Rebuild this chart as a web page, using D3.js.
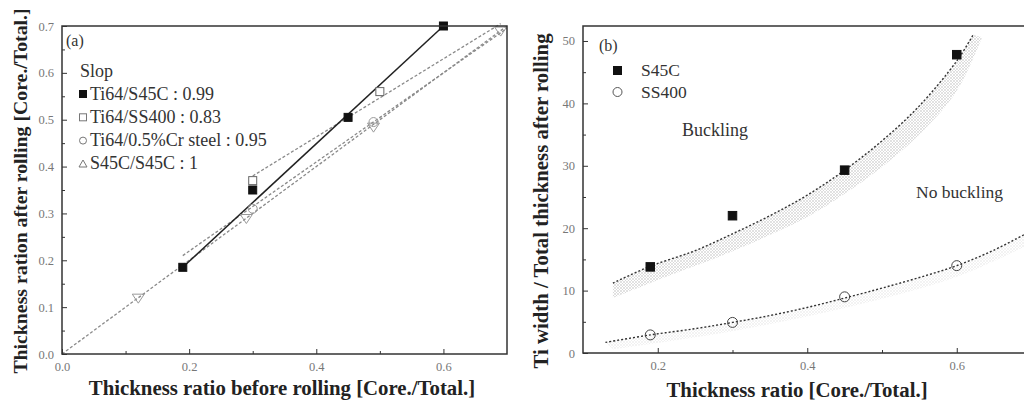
<!DOCTYPE html>
<html>
<head>
<meta charset="utf-8">
<script src="https://cdn.jsdelivr.net/npm/d3@7"></script>
<style>
  body { margin: 0; background: #fff; }
  svg text { font-family: "Liberation Serif", "DejaVu Serif", serif; }
  .tick text { fill: #777; font-size: 12.5px; }
  .tick line { stroke: #333; }
  .axis-title { font-weight: bold; font-size: 20.8px; fill: #222; }
  .legend { font-size: 18px; fill: #333; }
</style>
</head>
<body>
<svg id="chart" width="1024" height="403"></svg>
<script>
// panel (a) data
const aS45C = [[0.19, 0.185], [0.30, 0.35], [0.45, 0.505], [0.60, 0.70]];
const aSS400 = [[0.30, 0.37], [0.50, 0.56]];
const aCr = [[0.30, 0.31], [0.49, 0.495]];
const aS45CS45C = [[0.12, 0.12], [0.29, 0.29], [0.49, 0.485], [0.69, 0.69]];
const fitS45C = [[0.19, 0.185], [0.60, 0.70]];
const fitSS400 = [[0.30, 0.38], [0.69, 0.705]];
const fitCr = [[0.19, 0.21], [0.70, 0.695]];
const fitS45CS45C = [[0, 0], [0.70, 0.70]];
const aLegend = ['Ti64/S45C : 0.99', 'Ti64/SS400 : 0.83', 'Ti64/0.5%Cr steel : 0.95', 'S45C/S45C : 1'];

// panel (b) data
const bS45C = [[0.19, 13.8], [0.30, 22.0], [0.45, 29.3], [0.60, 47.8]];
const bSS400 = [[0.19, 2.9], [0.30, 4.9], [0.45, 9.0], [0.60, 14.0]];
const upperCurve = [[0.14, 11.2], [0.19, 13.9], [0.25, 16.4], [0.30, 19.1], [0.35, 22.0], [0.40, 25.3],
  [0.45, 29.3], [0.50, 34.0], [0.55, 39.6], [0.60, 46.8], [0.622, 51.0]];
const upperBandEdge = [[0.14, 8.8], [0.20, 11.7], [0.30, 16.3], [0.40, 21.8], [0.45, 25.5],
  [0.50, 29.8], [0.55, 35.0], [0.60, 42.0], [0.634, 50.6]];
const lowerCurve = [[0.13, 1.7], [0.19, 2.9], [0.25, 3.9], [0.30, 4.9], [0.35, 6.0], [0.40, 7.3],
  [0.45, 8.8], [0.50, 10.4], [0.55, 12.1], [0.60, 14.0], [0.65, 16.5], [0.70, 19.6]];
const lowerBandEdge = [[0.14, 0.6], [0.30, 3.5], [0.45, 7.2], [0.60, 12.2], [0.70, 17.6]];

const svg = d3.select('#chart');

// crosshatch pattern for the bands
const defs = svg.append('defs');
const pat = defs.append('pattern')
  .attr('id', 'hatch').attr('patternUnits', 'userSpaceOnUse')
  .attr('width', 3).attr('height', 3);
pat.append('path').attr('d', 'M0,0 L3,3 M3,0 L0,3').attr('stroke', '#cfcfcf').attr('stroke-width', 0.6);

function drawFrame(g, x, y, xTicks, xMinor, yTicks, yMinor, xFmt, yFmt) {
  const [x0, x1] = x.range();
  const [y0, y1] = y.range();
  g.append('g').attr('transform', `translate(0,${y0})`)
    .call(d3.axisBottom(x).tickValues(xMinor).tickFormat('').tickSize(-3))
    .call(a => a.select('.domain').remove());
  g.append('g').attr('transform', `translate(0,${y0})`)
    .call(d3.axisBottom(x).tickValues(xTicks).tickFormat(xFmt).tickSize(-5).tickPadding(8))
    .call(a => a.select('.domain').remove());
  g.append('g').attr('transform', `translate(${x0},0)`)
    .call(d3.axisLeft(y).tickValues(yMinor).tickFormat('').tickSize(-3))
    .call(a => a.select('.domain').remove());
  g.append('g').attr('transform', `translate(${x0},0)`)
    .call(d3.axisLeft(y).tickValues(yTicks).tickFormat(yFmt).tickSize(-5).tickPadding(8))
    .call(a => a.select('.domain').remove());
  g.selectAll('.tick text').attr('font-family', '"Liberation Serif", serif');
  g.append('rect')
    .attr('x', x0).attr('y', y1).attr('width', x1 - x0).attr('height', y0 - y1)
    .attr('fill', 'none').attr('stroke', '#333').attr('stroke-width', 1.5);
}

function square(g, pts, x, y, size, fill, stroke) {
  g.selectAll(null).data(pts).join('rect')
    .attr('x', d => x(d[0]) - size / 2).attr('y', d => y(d[1]) - size / 2)
    .attr('width', size).attr('height', size)
    .attr('fill', fill).attr('stroke', stroke).attr('stroke-width', 1);
}
function circle(g, pts, x, y, r, stroke) {
  g.selectAll(null).data(pts).join('circle')
    .attr('cx', d => x(d[0])).attr('cy', d => y(d[1])).attr('r', r)
    .attr('fill', 'none').attr('stroke', stroke).attr('stroke-width', 1);
}
function triDown(g, pts, x, y, s) {
  g.selectAll(null).data(pts).join('path')
    .attr('d', d => {
      const cx = x(d[0]), cy = y(d[1]);
      return `M${cx - s},${cy - s * 0.6}L${cx + s},${cy - s * 0.6}L${cx},${cy + s * 0.9}Z`;
    })
    .attr('fill', 'none').attr('stroke', '#999').attr('stroke-width', 1);
}

// ---------- panel (a) ----------
const xa = d3.scaleLinear().domain([0, 0.7]).range([62, 507]);
const ya = d3.scaleLinear().domain([0, 0.7]).range([354, 26]);
const ga = svg.append('g');
const line = d3.line().x(d => xa(d[0])).y(d => ya(d[1]));

[fitS45CS45C, fitCr, fitSS400].forEach(f => {
  ga.append('path').attr('d', line(f)).attr('fill', 'none')
    .attr('stroke', '#8a8a8a').attr('stroke-width', 1.3).attr('stroke-dasharray', '3,2');
});
ga.append('path').attr('d', line(fitS45C)).attr('fill', 'none')
  .attr('stroke', '#222').attr('stroke-width', 1.5);

triDown(ga, aS45CS45C, xa, ya, 6);
circle(ga, aCr, xa, ya, 4.5, '#999');
square(ga, aSS400, xa, ya, 8, '#fff', '#666');
square(ga, aS45C, xa, ya, 8, '#111', '#111');

drawFrame(ga, xa, ya, [0, 0.2, 0.4, 0.6], [0.1, 0.3, 0.5],
  d3.range(0, 0.71, 0.1), d3.range(0.05, 0.7, 0.1), d3.format('.1f'), d3.format('.1f'));

ga.append('text').attr('class', 'legend').attr('x', 66).attr('y', 46).style('font-size', '16px').text('(a)');
ga.append('text').attr('class', 'legend').attr('x', 80).attr('y', 77).text('Slop');
const aLeg = ga.append('g');
aLegend.forEach((t, i) => {
  const yy = 94 + i * 23.3;
  aLeg.append('text').attr('class', 'legend').attr('x', 90).attr('y', yy + 5.5).text(t);
});
aLeg.append('rect').attr('x', 79).attr('y', 90).attr('width', 8).attr('height', 8).attr('fill', '#111');
aLeg.append('rect').attr('x', 79.5).attr('y', 113.8).attr('width', 7).attr('height', 7).attr('fill', 'none').attr('stroke', '#777');
aLeg.append('circle').attr('cx', 83).attr('cy', 140.6).attr('r', 3.5).attr('fill', 'none').attr('stroke', '#777');
aLeg.append('path').attr('d', 'M79,167L87,167L83,160Z').attr('fill', 'none').attr('stroke', '#777');

svg.append('text').attr('class', 'axis-title').attr('text-anchor', 'middle')
  .attr('x', 282).attr('y', 395).text('Thickness ratio before rolling [Core./Total.]');
svg.append('text').attr('class', 'axis-title').attr('text-anchor', 'middle')
  .style('font-size', '19.8px')
  .attr('transform', 'translate(27,191) rotate(-90)').text('Thickness ration after rolling [Core./Total.]');

// ---------- panel (b) ----------
const xb = d3.scaleLinear().domain([0.1, 0.7]).range([583, 1031.5]);
const yb = d3.scaleLinear().domain([0, 52.4]).range([353, 26]);
const gb = svg.append('g');
const cl = d3.line().x(d => xb(d[0])).y(d => yb(d[1])).curve(d3.curveCatmullRom);

function band(top, edge) {
  const a = cl(top);
  const b = cl(edge.slice().reverse()).replace(/^M/, 'L');
  return a + b + 'Z';
}
gb.append('path').attr('d', band(upperCurve, upperBandEdge)).attr('fill', 'url(#hatch)');
gb.append('path').attr('d', band(lowerCurve, lowerBandEdge)).attr('fill', 'url(#hatch)').attr('opacity', 0.4);

[upperCurve, lowerCurve].forEach(c => {
  gb.append('path').attr('d', cl(c)).attr('fill', 'none')
    .attr('stroke', '#333').attr('stroke-width', 1.4).attr('stroke-dasharray', '2,2');
});

circle(gb, bSS400, xb, yb, 5, '#444');
square(gb, bS45C, xb, yb, 8.5, '#111', '#111');

drawFrame(gb, xb, yb, [0.2, 0.4, 0.6], [0.3, 0.5],
  d3.range(0, 51, 10), d3.range(5, 52, 10), d3.format('.1f'), d3.format('d'));

gb.append('text').attr('class', 'legend').attr('x', 599).attr('y', 51).style('font-size', '16px').text('(b)');
gb.append('rect').attr('x', 613).attr('y', 66).attr('width', 9).attr('height', 9).attr('fill', '#111');
gb.append('circle').attr('cx', 617.5).attr('cy', 92).attr('r', 4.5).attr('fill', 'none').attr('stroke', '#555');
gb.append('text').attr('class', 'legend').attr('x', 641).attr('y', 76).style('font-size', '17.5px').text('S45C');
gb.append('text').attr('class', 'legend').attr('x', 641).attr('y', 98).style('font-size', '17.5px').text('SS400');
gb.append('text').attr('class', 'legend').attr('x', 682).attr('y', 136).style('font-size', '18px').text('Buckling');
gb.append('text').attr('class', 'legend').attr('x', 916).attr('y', 198).style('font-size', '17.5px').text('No buckling');

svg.append('text').attr('class', 'axis-title').attr('text-anchor', 'middle')
  .attr('x', 797).attr('y', 397).text('Thickness ratio [Core./Total.]');
svg.append('text').attr('class', 'axis-title').attr('text-anchor', 'middle')
  .attr('transform', 'translate(548,201) rotate(-90)').text('Ti width / Total thickness after rolling');
</script>
</body>
</html>
